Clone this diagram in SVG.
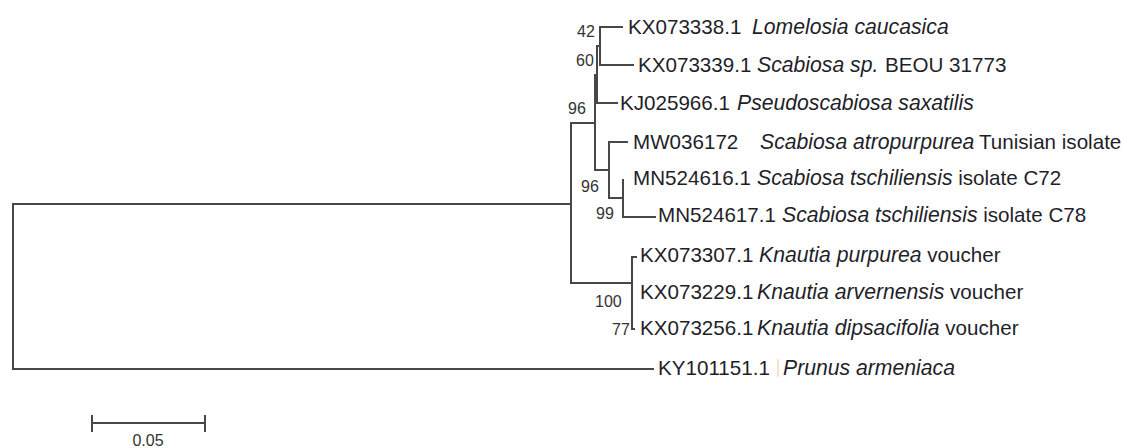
<svg xmlns="http://www.w3.org/2000/svg" width="1123" height="448" viewBox="0 0 1123 448">
<style>
.br{fill:none;stroke:#474747;stroke-width:2;stroke-linecap:square}
.lb{font-family:"Liberation Sans",Arial,sans-serif;font-size:20.6px;fill:#1f1f2a}
.it{font-style:italic;font-size:21.2px}
.bs{font-family:"Liberation Sans",Arial,sans-serif;font-size:16px;fill:#333}
</style>
<rect width="1123" height="448" fill="#fff"/>
<g id="connectors">
<path class="br" d="M571 204H13V369H653"/>
<path class="br" d="M595 123H571V283H632"/>
<path class="br" d="M597 75H595V170H609"/>
<path class="br" d="M600 46H597V103H617"/>
<path class="br" d="M622 27H600V65H633"/>
<path class="br" d="M627 142H609V198H623"/>
<path class="br" d="M623 180V217H655"/>
<path class="br" d="M636 257H632V329H634"/>
<line x1="778" y1="359" x2="778" y2="377" stroke="#f2c48c" stroke-width="1"/>
</g>
<g id="leaf-KX073338"><text class="lb" x="628" y="34">KX073338.1 <tspan class="it" x="752">Lomelosia caucasica</tspan></text></g>
<g id="leaf-KX073339"><text class="lb" x="638" y="72">KX073339.1 <tspan class="it" x="757">Scabiosa sp.</tspan><tspan x="885">BEOU 31773</tspan></text></g>
<g id="leaf-KJ025966"><text class="lb" x="620" y="110">KJ025966.1 <tspan class="it" x="737">Pseudoscabiosa saxatilis</tspan></text></g>
<g id="leaf-MW036172"><text class="lb" x="633" y="149">MW036172 <tspan class="it" x="760">Scabiosa atropurpurea</tspan><tspan x="979">Tunisian isolate</tspan></text></g>
<g id="leaf-MN524616"><text class="lb" x="633" y="185">MN524616.1 <tspan class="it" x="757">Scabiosa tschiliensis</tspan> isolate C72</text></g>
<g id="leaf-MN524617"><text class="lb" x="658" y="222">MN524617.1 <tspan class="it" x="782">Scabiosa tschiliensis</tspan> isolate C78</text></g>
<g id="leaf-KX073307"><text class="lb" x="640" y="262">KX073307.1 <tspan class="it" x="759">Knautia purpurea</tspan> voucher</text></g>
<g id="leaf-KX073229"><text class="lb" x="640" y="299">KX073229.1 <tspan class="it" x="757">Knautia arvernensis</tspan> voucher</text></g>
<g id="leaf-KX073256"><text class="lb" x="640" y="335">KX073256.1 <tspan class="it" x="757">Knautia dipsacifolia</tspan> voucher</text></g>
<g id="leaf-KY101151"><text class="lb" x="658" y="375">KY101151.1 <tspan class="it" x="783">Prunus armeniaca</tspan></text></g>
<g id="bootstrap">
<text class="bs" x="577" y="37">42</text>
<text class="bs" x="576" y="66">60</text>
<text class="bs" x="568" y="114">96</text>
<text class="bs" x="581" y="192">96</text>
<text class="bs" x="596" y="219">99</text>
<text class="bs" x="595" y="307">100</text>
<text class="bs" x="612" y="335">77</text>
</g>
<g id="scalebar">
<path class="br" d="M92 423H205M92 416V431M205 416V431"/>
<text class="bs" x="148" y="446" text-anchor="middle">0.05</text>
</g>
</svg>
